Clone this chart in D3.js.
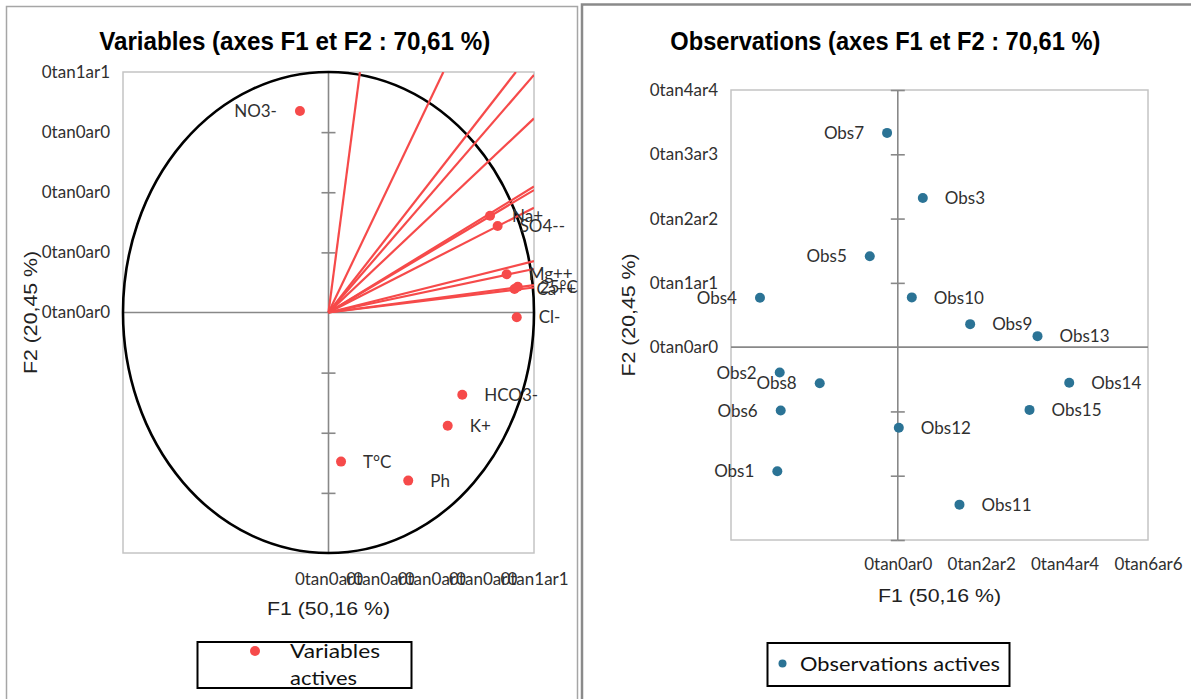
<!DOCTYPE html>
<html>
<head>
<meta charset="utf-8">
<script src="https://cdn.jsdelivr.net/npm/d3@7"></script>
<style>
  body { margin: 0; background: #fff; }
  .tick-lbl { font-family: Lato, "Open Sans", sans-serif; font-size: 17px; fill: #303030; }
  .pt-lbl { font-family: Lato, "Open Sans", sans-serif; font-size: 17px; fill: #303030; }
  .chart-title { font-family: "Liberation Sans", Arial, sans-serif; font-size: 25px; font-weight: bold; fill: #000; }
  .axis-title { font-family: "Liberation Sans", Arial, sans-serif; font-size: 18px; fill: #222; }
  .legend-lbl { font-family: Lato, "Open Sans", sans-serif; font-size: 20px; fill: #111; }
</style>
</head>
<body>
<div id="chart"></div>
<script>
// variables (correlation circle)
const varNames = ["NO3-", "Na+", "SO4--", "Mg++", "Ca++", "25°C", "Cl-", "HCO3-", "K+", "T°C", "Ph"];
const varF1 = [-0.139, 0.786, 0.823, 0.867, 0.905, 0.921, 0.916, 0.651, 0.580, 0.061, 0.388];
const varF2 = [0.838, 0.402, 0.360, 0.159, 0.098, 0.107, -0.020, -0.342, -0.471, -0.620, -0.699];

// red lines from origin (end points where they leave the plot)
const lineEndF1 = [0.153, 0.559, 0.912, 1, 1, 1, 1, 1, 1, 1, 1, 1];
const lineEndF2 = [1, 1, 1, 0.988, 0.807, 0.524, 0.509, 0.436, 0.214, 0.181, 0.114, 0.104];

const varXTicks = [0, 0.25, 0.5, 0.75, 1];
const varXTickLabels = ["0tan0ar0", "0tan0ar0", "0tan0ar0", "0tan0ar0", "0tan1ar1"];
const varYTicks = [0, 0.25, 0.5, 0.75, 1];
const varYTickLabels = ["0tan0ar0", "0tan0ar0", "0tan0ar0", "0tan0ar0", "0tan1ar1"];
const varYMarks = [-0.75, -0.5, -0.25, 0.25, 0.5, 0.75];

// observations
const obsNames = ["Obs1", "Obs2", "Obs3", "Obs4", "Obs5", "Obs6", "Obs7", "Obs8",
                  "Obs9", "Obs10", "Obs11", "Obs12", "Obs13", "Obs14", "Obs15"];
const obsF1 = [-2.889, -2.832, 0.600, -3.305, -0.672, -2.808, -0.257, -1.872,
               1.735, 0.336, 1.479, 0.024, 3.350, 4.111, 3.159];
const obsF2 = [-1.931, -0.394, 2.321, 0.769, 1.413, -0.986, 3.333, -0.561,
               0.358, 0.774, -2.450, -1.255, 0.171, -0.555, -0.976];

const obsXTicks = [0, 2, 4, 6];
const obsXTickLabels = ["0tan0ar0", "0tan2ar2", "0tan4ar4", "0tan6ar6"];
const obsYTicks = [0, 1, 2, 3, 4];
const obsYTickLabels = ["0tan0ar0", "0tan1ar1", "0tan2ar2", "0tan3ar3", "0tan4ar4"];
const obsYMarks = [-3, -2, -1, 1, 2, 3, 4];

const redColor = "#f64a4a";
const blueColor = "#2b7395";

const svg = d3.select("#chart").append("svg")
    .attr("width", 1191)
    .attr("height", 699);

// panel frames
svg.append("rect")
    .attr("x", 6.5).attr("y", 6.5)
    .attr("width", 571).attr("height", 760)
    .attr("fill", "none")
    .attr("stroke", "#a6a6a6")
    .attr("stroke-width", 1.5);

svg.append("rect")
    .attr("x", 582).attr("y", 4.5)
    .attr("width", 700).attr("height", 760)
    .attr("fill", "none")
    .attr("stroke", "#8a8a8a")
    .attr("stroke-width", 2.5);


function drawFrame(g, x, y, opt) {
    const [x0, x1] = x.range();
    const [y1, y0] = y.range();

    g.append("rect")
        .attr("x", x0).attr("y", y0)
        .attr("width", x1 - x0).attr("height", y1 - y0)
        .attr("fill", "none")
        .attr("stroke", "#c4c4c4")
        .attr("stroke-width", 1.5);

    // center axes
    g.append("line")
        .attr("x1", x0).attr("x2", x1)
        .attr("y1", y(0)).attr("y2", y(0))
        .attr("stroke", "#888").attr("stroke-width", 1.6);
    g.append("line")
        .attr("x1", x(0)).attr("x2", x(0))
        .attr("y1", y0).attr("y2", y1)
        .attr("stroke", "#888").attr("stroke-width", 1.6);

    // crossing tick marks on vertical axis
    [d3.axisLeft, d3.axisRight].forEach(ax => {
        g.append("g")
            .attr("transform", `translate(${x(0)},0)`)
            .call(ax(y).tickValues(opt.yMarks).tickSize(7).tickFormat(""))
            .call(a => a.select(".domain").remove())
            .selectAll("line")
            .attr("stroke", "#888")
            .attr("stroke-width", 1.6);
    });

    // tick labels
    g.append("g")
        .attr("transform", `translate(${x0},0)`)
        .call(d3.axisLeft(y).tickValues(opt.yTicks).tickSize(0).tickPadding(13)
            .tickFormat((d, i) => opt.yLabels[i]))
        .call(a => a.select(".domain").remove())
        .attr("font-family", null).attr("font-size", null)
        .selectAll("text").attr("class", "tick-lbl").attr("fill", null);

    g.append("g")
        .attr("transform", `translate(0,${y1})`)
        .call(d3.axisBottom(x).tickValues(opt.xTicks).tickSize(0).tickPadding(opt.xPad)
            .tickFormat((d, i) => opt.xLabels[i]))
        .call(a => a.select(".domain").remove())
        .attr("font-family", null).attr("font-size", null)
        .selectAll("text").attr("class", "tick-lbl").attr("fill", null);

    // titles
    g.append("text")
        .attr("class", "chart-title")
        .attr("x", opt.titleX).attr("y", 50)
        .attr("text-anchor", "middle")
        .attr("textLength", opt.titleLen)
        .attr("lengthAdjust", "spacingAndGlyphs")
        .text(opt.title);

    g.append("text")
        .attr("class", "axis-title")
        .attr("x", (x0 + x1) / 2).attr("y", y1 + 61.5)
        .attr("text-anchor", "middle")
        .attr("textLength", 123)
        .attr("lengthAdjust", "spacingAndGlyphs")
        .text("F1 (50,16 %)");

    g.append("text")
        .attr("class", "axis-title")
        .attr("transform", `translate(${opt.f2X},${(y0 + y1) / 2}) rotate(-90)`)
        .attr("text-anchor", "middle")
        .attr("textLength", 123)
        .attr("lengthAdjust", "spacingAndGlyphs")
        .text("F2 (20,45 %)");
}


function drawPoints(g, x, y, names, fx, fy, color) {
    const pts = names.map((n, i) => ({ name: n, f1: fx[i], f2: fy[i] }));

    g.selectAll(".dot")
        .data(pts)
        .enter().append("circle")
        .attr("class", "dot")
        .attr("cx", d => x(d.f1))
        .attr("cy", d => y(d.f2))
        .attr("r", 5)
        .attr("fill", color);

    g.selectAll(".pt-lbl")
        .data(pts)
        .enter().append("text")
        .attr("class", "pt-lbl")
        .attr("x", d => x(d.f1) + (d.f1 < 0 ? -23 : 22))
        .attr("y", d => y(d.f2))
        .attr("dy", "0.36em")
        .attr("text-anchor", d => d.f1 < 0 ? "end" : "start")
        .text(d => d.name);
}


// ---- Variables panel ----
const xVar = d3.scaleLinear().domain([-1, 1]).range([123, 534]);
const yVar = d3.scaleLinear().domain([-1, 1]).range([553, 72]);
const gVar = svg.append("g");

drawFrame(gVar, xVar, yVar, {
    yMarks: varYMarks, yTicks: varYTicks, yLabels: varYTickLabels,
    xTicks: varXTicks, xLabels: varXTickLabels, xPad: 20,
    title: "Variables (axes F1 et F2 : 70,61 %)", titleX: 294.7, titleLen: 391,
    f2X: 37
});

svg.append("clipPath").attr("id", "clipVar")
    .append("rect")
    .attr("x", 123).attr("y", 72)
    .attr("width", 411).attr("height", 481);

gVar.append("ellipse")
    .attr("cx", xVar(0)).attr("cy", yVar(0))
    .attr("rx", xVar(1) - xVar(0)).attr("ry", yVar(0) - yVar(1))
    .attr("fill", "none")
    .attr("stroke", "#000")
    .attr("stroke-width", 2.6);

gVar.append("g")
    .attr("clip-path", "url(#clipVar)")
    .selectAll("line")
    .data(lineEndF1.map((v, i) => [v, lineEndF2[i]]))
    .enter().append("line")
    .attr("x1", xVar(0)).attr("y1", yVar(0))
    .attr("x2", d => xVar(d[0])).attr("y2", d => yVar(d[1]))
    .attr("stroke", redColor)
    .attr("stroke-width", 2.2);

drawPoints(gVar, xVar, yVar, varNames, varF1, varF2, redColor);

// legend
const lgVar = svg.append("g");
lgVar.append("rect")
    .attr("x", 197.5).attr("y", 642)
    .attr("width", 214).attr("height", 46)
    .attr("fill", "#fff")
    .attr("stroke", "#000")
    .attr("stroke-width", 2);
lgVar.append("circle").attr("cx", 255).attr("cy", 651).attr("r", 5).attr("fill", redColor);
lgVar.append("text").attr("class", "legend-lbl")
    .attr("x", 290).attr("y", 658)
    .attr("textLength", 90).attr("lengthAdjust", "spacingAndGlyphs")
    .text("Variables");
lgVar.append("text").attr("class", "legend-lbl")
    .attr("x", 290).attr("y", 685)
    .attr("textLength", 67).attr("lengthAdjust", "spacingAndGlyphs")
    .text("actives");


// ---- Observations panel ----
const xObs = d3.scaleLinear().domain([-4, 6]).range([731, 1148]);
const yObs = d3.scaleLinear().domain([-3, 4]).range([540, 90]);
const gObs = svg.append("g");

drawFrame(gObs, xObs, yObs, {
    yMarks: obsYMarks, yTicks: obsYTicks, yLabels: obsYTickLabels,
    xTicks: obsXTicks, xLabels: obsXTickLabels, xPad: 18,
    title: "Observations (axes F1 et F2 : 70,61 %)", titleX: 885.3, titleLen: 430,
    f2X: 635
});

drawPoints(gObs, xObs, yObs, obsNames, obsF1, obsF2, blueColor);

const lgObs = svg.append("g");
lgObs.append("rect")
    .attr("x", 767.5).attr("y", 643)
    .attr("width", 242).attr("height", 43)
    .attr("fill", "#fff")
    .attr("stroke", "#000")
    .attr("stroke-width", 2);
lgObs.append("circle").attr("cx", 782.5).attr("cy", 663.5).attr("r", 4).attr("fill", blueColor);
lgObs.append("text").attr("class", "legend-lbl")
    .attr("x", 800).attr("y", 671)
    .attr("textLength", 200).attr("lengthAdjust", "spacingAndGlyphs")
    .text("Observations actives");
</script>
</body>
</html>
